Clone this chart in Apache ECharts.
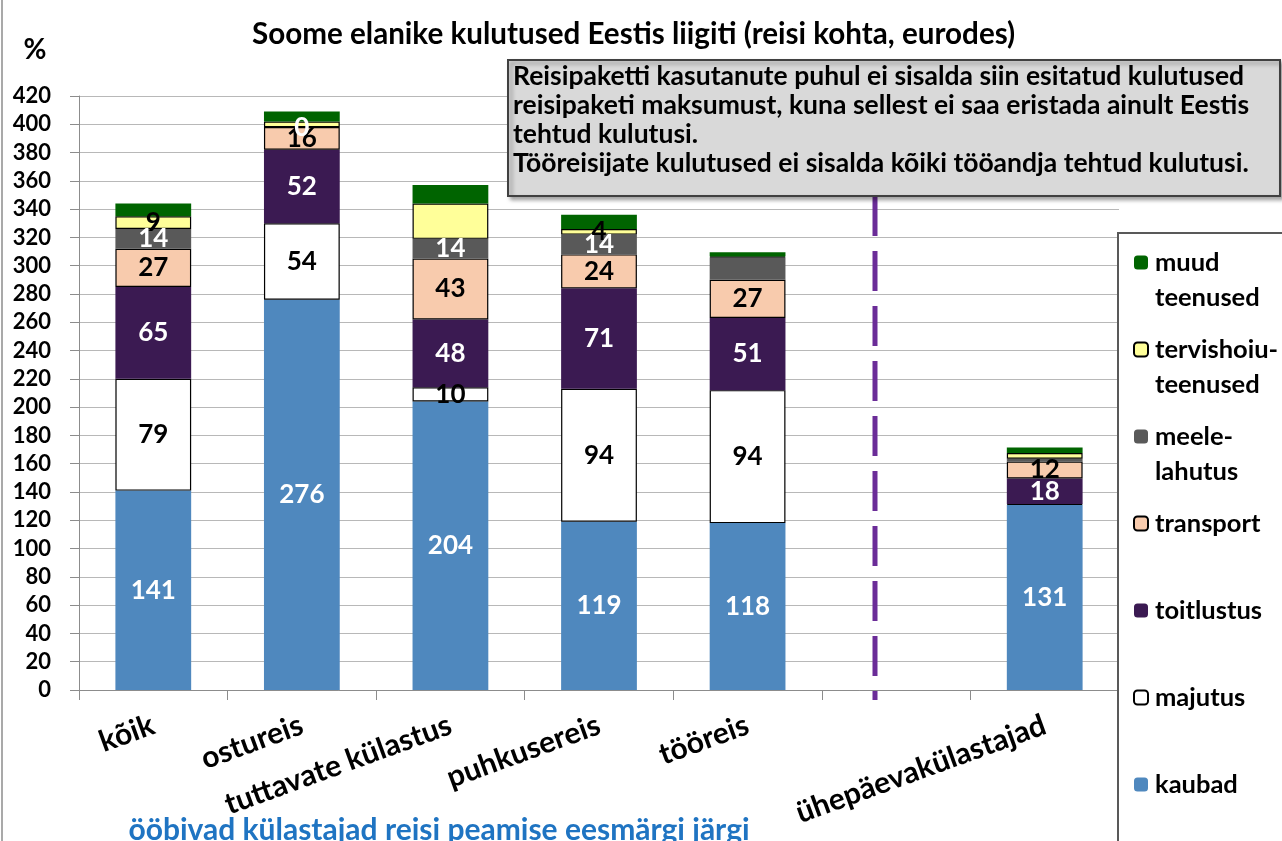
<!DOCTYPE html>
<html lang="et">
<head>
    <meta charset="UTF-8">
    <title>Soome elanike kulutused Eestis liigiti</title>
    <style>
        html, body { margin: 0; padding: 0; background: #fff; }
        #main { width: 1282px; height: 841px; }
    </style>
</head>
<body>
    <div id="main"></div>
</body>
<script src="https://cdn.jsdelivr.net/npm/echarts@6/dist/echarts.min.js"></script>
<script>
    // andmed (eurot reisi kohta)
    const categories = ['kõik', 'ostureis', 'tuttavate külastus', 'puhkusereis', 'tööreis', '', 'ühepäevakülastajad'];
    const yMin = 0, yMax = 420, yStep = 20;

    const kaubad = [141, 276, 204, 119, 118, '-', 131];
    const majutus = [79, 54, 10, 94, 94, '-', 0.5];
    const toitlustus = [65, 52, 48, 71, 51, '-', 18];
    const transport = [27, 16, 43, 24, 27, '-', 12];
    const meelelahutus = [14, 0, 14, 14, 16, '-', 2];
    const tervishoiu = [9, 4, 25, 4, 0.5, '-', 4];
    const muud = [9, 7, 13, 10, 3, '-', 4];

    // millistel tulpadel silti ei näidata
    const hiddenLabels = {
        majutus: [6],
        meelelahutus: [4, 6],
        tervishoiu: [1, 2, 4, 6],
        muud: [0, 1, 2, 3, 4, 6]
    };

    // legendis: esimene rida ikooni kõrval, teine selle all
    const legendNames = {
        'muud teenused': ' \nmuud\nteenused',
        'tervishoiu-teenused': ' \ntervishoiu-\nteenused',
        'meele-lahutus': ' \nmeele-\nlahutus',
        'transport': ' \ntransport\n ',
        'toitlustus': ' \ntoitlustus\n ',
        'majutus': ' \nmajutus\n ',
        'kaubad': ' \nkaubad\n '
    };

    const note = 'Reisipaketti kasutanute puhul ei sisalda siin esitatud kulutused\n' +
        'reisipaketi maksumust, kuna sellest ei saa eristada ainult Eestis\n' +
        'tehtud kulutusi.\n' +
        'Tööreisijate kulutused ei sisalda kõiki tööandja tehtud kulutusi.';

    const FONT = 'Lato, "Open Sans", sans-serif';

    function makeSeries(name, values, color, labelColor, hidden, bordered) {
        return {
            name: name,
            type: 'bar',
            stack: 'total',
            barCategoryGap: '49%',
            itemStyle: {
                color: color,
                borderColor: bordered ? '#000' : color,
                borderWidth: bordered ? 1.2 : 0
            },
            label: {
                show: true,
                position: 'inside',
                color: labelColor,
                fontFamily: FONT,
                fontWeight: 'bold',
                fontSize: 26,
                formatter: p => (hidden || []).indexOf(p.dataIndex) >= 0 ? '' : String(Math.round(p.value))
            },
            emphasis: { disabled: true },
            data: values
        };
    }

    const chart = echarts.init(document.getElementById('main'));
    chart.setOption({
        animation: false,
        title: {
            text: 'Soome elanike kulutused Eestis liigiti (reisi kohta, eurodes)',
            left: 247,
            top: 14,
            textStyle: { fontFamily: FONT, fontWeight: 'bold', fontSize: 29.6, color: '#000' }
        },
        grid: { left: 79, right: 163, top: 96, bottom: 151 },
        legend: {
            orient: 'vertical',
            left: 1128,
            top: 205,
            height: 1000,
            itemWidth: 14,
            itemHeight: 14,
            itemGap: -18,
            selectedMode: false,
            data: ['muud teenused', 'tervishoiu-teenused', 'meele-lahutus', 'transport', 'toitlustus', 'majutus', 'kaubad'],
            formatter: n => legendNames[n],
            textStyle: {
                fontFamily: FONT, fontWeight: 'bold', fontSize: 25.5, color: '#000',
                lineHeight: 35, padding: [0, 0, 0, 2]
            }
        },
        xAxis: {
            type: 'category',
            data: categories,
            axisLine: { lineStyle: { color: '#8c8c8c', width: 1 } },
            axisTick: { show: true, length: 10, lineStyle: { color: '#8c8c8c' } },
            axisLabel: {
                rotate: 20,
                margin: 34,
                interval: 0,
                color: '#000',
                fontFamily: FONT,
                fontWeight: 'bold',
                fontSize: 30
            }
        },
        yAxis: {
            type: 'value',
            min: yMin,
            max: yMax,
            interval: yStep,
            axisLine: { show: true, lineStyle: { color: '#8c8c8c', width: 1 } },
            axisTick: { show: true, length: 9, lineStyle: { color: '#8c8c8c' } },
            axisLabel: { margin: 28, color: '#000', fontFamily: FONT, fontWeight: 'bold', fontSize: 22 },
            splitLine: { lineStyle: { color: '#b8b8b8', width: 1 } }
        },
        series: [
            makeSeries('kaubad', kaubad, '#4f88be', '#fff', null, false),
            makeSeries('majutus', majutus, '#ffffff', '#000', hiddenLabels.majutus, true),
            makeSeries('toitlustus', toitlustus, '#3b1a52', '#fff', null, false),
            makeSeries('transport', transport, '#f8cbad', '#000', null, true),
            makeSeries('meele-lahutus', meelelahutus, '#595959', '#fff', hiddenLabels.meelelahutus, false),
            makeSeries('tervishoiu-teenused', tervishoiu, '#ffff99', '#000', hiddenLabels.tervishoiu, true),
            makeSeries('muud teenused', muud, '#006400', '#000', hiddenLabels.muud, false)
        ],
        graphic: [
            // vasak raam
            { type: 'line', z: 1, shape: { x1: 2, y1: 0, x2: 2, y2: 841 }, style: { stroke: '#8c8c8c', lineWidth: 1.5 } },
            // legendi raam
            { type: 'rect', z: 1, shape: { x: 1118, y: 233, width: 200, height: 700 }, style: { fill: '#fff', stroke: '#595959', lineWidth: 2 } },
            // eraldusjoon
            { type: 'line', z: 3, shape: { x1: 875, y1: 196, x2: 875, y2: 700 }, style: { stroke: '#6b2c98', lineWidth: 5, lineDash: [40, 15] } },
            // märkuse kast
            {
                type: 'rect', z: 10,
                shape: { x: 508, y: 60, width: 772, height: 136 },
                style: { fill: '#d9d9d9', stroke: '#404040', lineWidth: 2, shadowBlur: 4, shadowOffsetX: 3, shadowOffsetY: 3, shadowColor: 'rgba(0,0,0,0.35)' }
            },
            {
                type: 'text', z: 11, x: 513, y: 62,
                style: { text: note, fill: '#000', font: 'bold 26.5px ' + FONT, lineHeight: 29 }
            },
            {
                type: 'text', z: 11, x: 35, y: 50,
                style: { text: '%', fill: '#000', font: 'bold 28px ' + FONT, align: 'center', verticalAlign: 'middle' }
            },
            {
                type: 'text', z: 11, x: 439, y: 830,
                style: { text: 'ööbivad külastajad reisi peamise eesmärgi järgi', fill: '#1f74c2', font: 'bold 30px ' + FONT, align: 'center', verticalAlign: 'middle' }
            }
        ]
    });
</script>
</html>
